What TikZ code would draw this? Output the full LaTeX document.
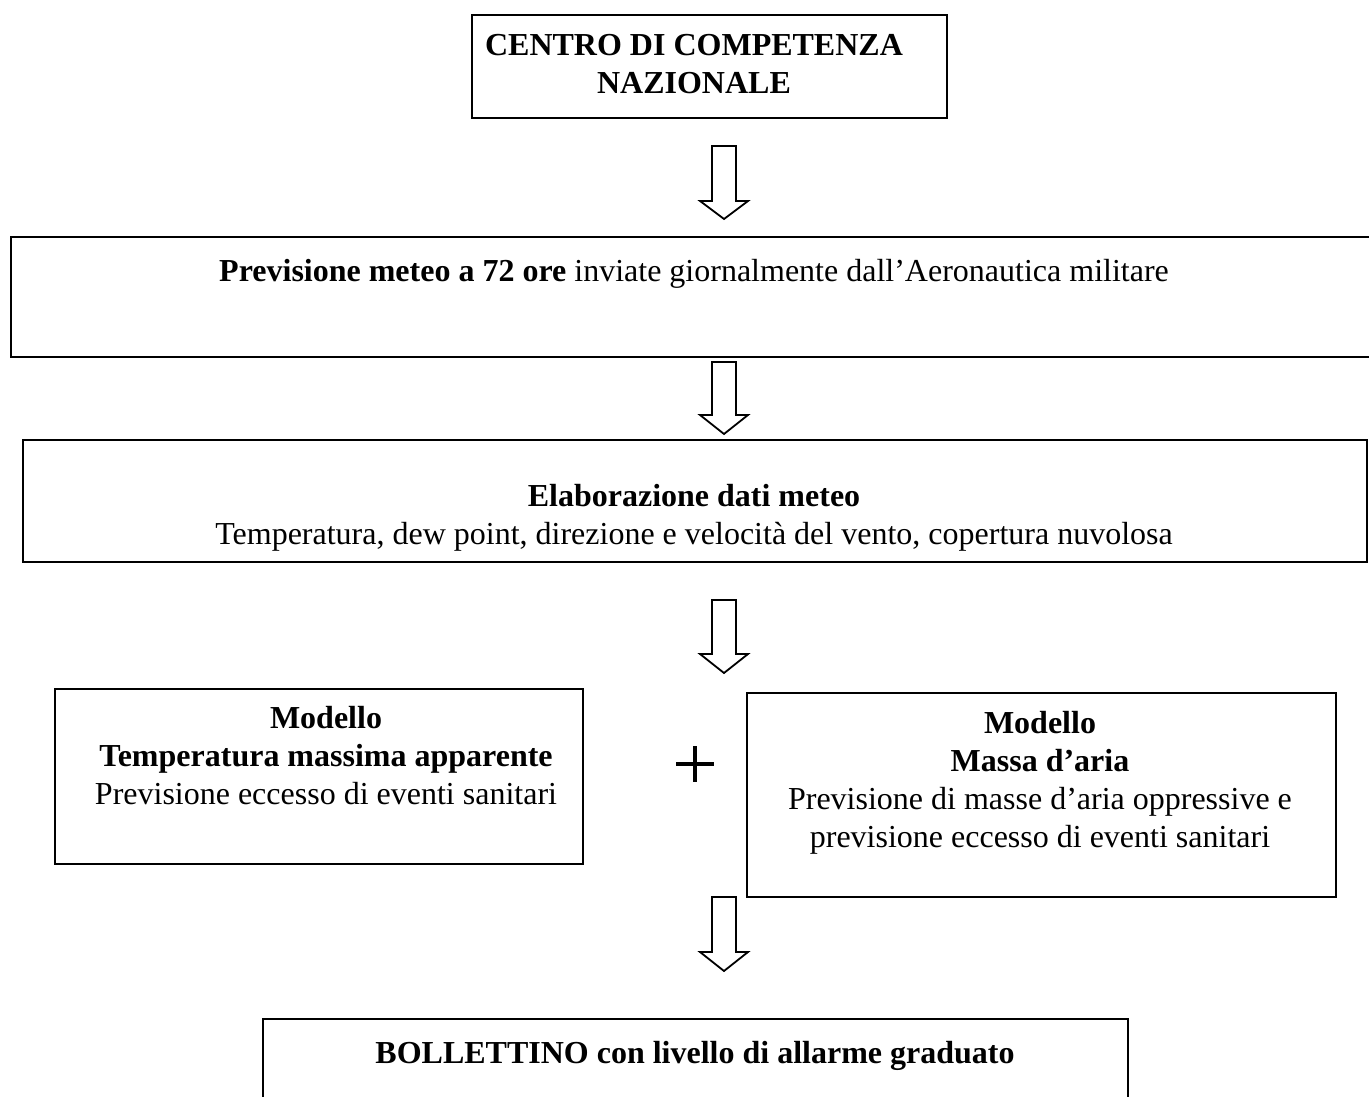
\documentclass[tikz,border=0pt]{standalone}
\usepackage{fontspec}
\setmainfont{Liberation Serif}
\usetikzlibrary{calc}
\begin{document}
\begin{tikzpicture}[x=1pt,y=-1pt,
  box/.style={draw, line width=2pt, inner sep=0pt, anchor=north west},
  txt/.style={inner sep=0pt, anchor=base, align=center, font=\fontsize{32}{38}\selectfont},
  barrow/.style={draw, line width=1.8pt, line join=miter}]
\useasboundingbox (0,0) rectangle (1369,1097);
% boxes
\node[box, minimum width=475pt, minimum height=103pt] (b1) at (471,14) {};
\node[box, minimum width=1400pt, minimum height=120pt] (b2) at (10,236) {};
\node[box, minimum width=1344pt, minimum height=122pt] (b3) at (22,439) {};
\node[box, minimum width=528pt, minimum height=175pt] (b4) at (54,688) {};
\node[box, minimum width=589pt, minimum height=204pt] (b5) at (746,692) {};
\node[box, minimum width=865pt, minimum height=120pt] (b6) at (262,1018) {};
% texts (anchor = baseline of the last line)
\node[txt] (t1) at (694,94) {\textbf{CENTRO DI COMPETENZA}\\\textbf{NAZIONALE}};
\node[txt] (t2) at (694,281) {\textbf{Previsione meteo a 72 ore} inviate giornalmente dall’Aeronautica militare};
\node[txt] (t3) at (694,544) {\textbf{Elaborazione dati meteo}\\Temperatura, dew point, direzione e velocità del vento, copertura nuvolosa};
\node[txt] (t4) at (326,804) {\textbf{Modello}\\\textbf{Temperatura massima apparente}\\Previsione eccesso di eventi sanitari};
\node[txt] (t5) at (1040,847) {\textbf{Modello}\\\textbf{Massa d’aria}\\Previsione di masse d’aria oppressive e\\previsione eccesso di eventi sanitari};
\node[txt] (t6) at (695,1063) {\textbf{BOLLETTINO con livello di allarme graduato}};
% plus sign
\coordinate (pc) at (695,764);
\draw[line width=4pt] ($(pc)+(-19,0)$) -- ($(pc)+(19,0)$);
\draw[line width=4pt] ($(pc)+(0,-18)$) -- ($(pc)+(0,18)$);
% block arrows
\foreach \top/\hb/\tip in {146/201/219, 362/415/434, 600/654/673, 897/952/971}{
  \draw[barrow] (712,\top) -- (736,\top) -- (736,\hb) -- (748,\hb) -- (724,\tip) -- (700,\hb) -- (712,\hb) -- cycle;
}
\end{tikzpicture}
\end{document}
